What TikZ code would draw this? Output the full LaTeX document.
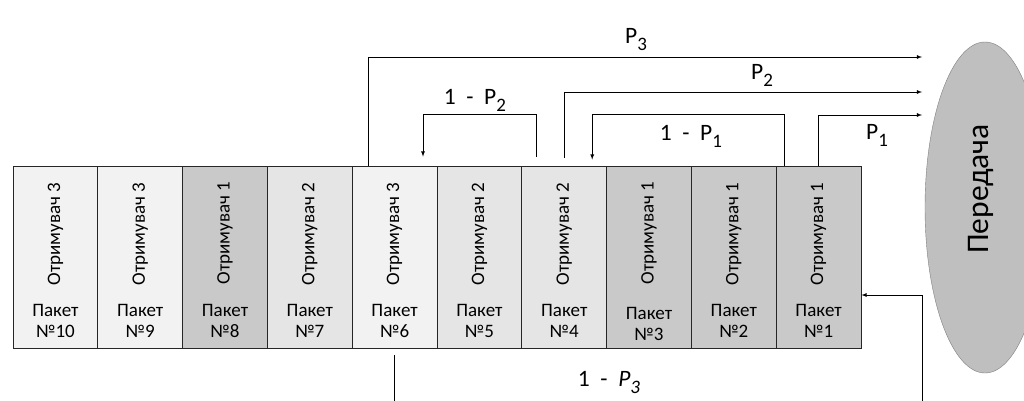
\documentclass[tikz,border=0pt]{standalone}
\usepackage{fontspec}
\setmainfont{Carlito}
\usepackage{tikz}
\usetikzlibrary{shapes.geometric, arrows, positioning}
\definecolor{pklight}{HTML}{F2F2F2}
\definecolor{pkmid}{HTML}{E5E5E5}
\definecolor{pkdark}{HTML}{C9C9C9}
\definecolor{sendfill}{HTML}{BFBFBF}
\definecolor{sendline}{HTML}{7F7F7F}
\newcommand{\psub}[1]{\raisebox{-7pt}{\fontsize{19}{19}\selectfont #1}}
\newcommand{\gap}{\hspace{0.45em}}
\tikzstyle{packet} = [rectangle, minimum width=84.8pt, minimum height=182pt, inner sep=0pt, draw=black!85, line width=0.8pt]
\tikzstyle{receiver} = [rotate=90, font=\fontsize{19}{22}\selectfont, inner sep=0pt]
\tikzstyle{pnum} = [align=center, font=\fontsize{19}{20.5}\selectfont, inner sep=0pt]
\tikzstyle{sender} = [ellipse, minimum width=120pt, minimum height=331pt, draw=sendline, fill=sendfill]
\tikzstyle{sendtext} = [rotate=90, font=\fontsize{31.5}{36}\selectfont, inner sep=0pt]
\tikzstyle{prob} = [font=\fontsize{23.5}{26}\selectfont, inner sep=0pt]
\tikzstyle{arrow} = [line width=0.8pt,->,>=latex]

\begin{document}
\begin{tikzpicture}[x=1pt, y=1pt, node distance=84.8pt]
\useasboundingbox (0,0) rectangle (1024,400);

% Packet queue
\node (pak10) [packet, fill=pklight] at (55.4,143) {};
\node (pak9) [packet, fill=pklight, right of=pak10] {};
\node (pak8) [packet, fill=pkdark, right of=pak9] {};
\node (pak7) [packet, fill=pkmid, right of=pak8] {};
\node (pak6) [packet, fill=pklight, right of=pak7] {};
\node (pak5) [packet, fill=pkmid, right of=pak6] {};
\node (pak4) [packet, fill=pkmid, right of=pak5] {};
\node (pak3) [packet, fill=pkdark, right of=pak4] {};
\node (pak2) [packet, fill=pkdark, right of=pak3] {};
\node (pak1) [packet, fill=pkdark, right of=pak2] {};

% Receivers
\node (rx10) [receiver] at ([yshift=23pt]pak10.center) {Отримувач 3};
\node (rx9) [receiver] at ([yshift=23pt]pak9.center) {Отримувач 3};
\node (rx8) [receiver] at ([yshift=24pt]pak8.center) {Отримувач 1};
\node (rx7) [receiver] at ([yshift=23pt]pak7.center) {Отримувач 2};
\node (rx6) [receiver] at ([yshift=23pt]pak6.center) {Отримувач 3};
\node (rx5) [receiver] at ([yshift=23pt]pak5.center) {Отримувач 2};
\node (rx4) [receiver] at ([yshift=23pt]pak4.center) {Отримувач 2};
\node (rx3) [receiver] at ([yshift=24pt]pak3.center) {Отримувач 1};
\node (rx2) [receiver] at ([yshift=23pt]pak2.center) {Отримувач 1};
\node (rx1) [receiver] at ([yshift=23pt]pak1.center) {Отримувач 1};

% Packet numbers
\node (no10) [pnum] at ([yshift=-64pt]pak10.center) {Пакет\\№10};
\node (no9) [pnum] at ([yshift=-64pt]pak9.center) {Пакет\\№9};
\node (no8) [pnum] at ([yshift=-64pt]pak8.center) {Пакет\\№8};
\node (no7) [pnum] at ([yshift=-64pt]pak7.center) {Пакет\\№7};
\node (no6) [pnum] at ([yshift=-64pt]pak6.center) {Пакет\\№6};
\node (no5) [pnum] at ([yshift=-64pt]pak5.center) {Пакет\\№5};
\node (no4) [pnum] at ([yshift=-64pt]pak4.center) {Пакет\\№4};
\node (no3) [pnum] at ([yshift=-67pt]pak3.center) {Пакет\\№3};
\node (no2) [pnum] at ([yshift=-64pt]pak2.center) {Пакет\\№2};
\node (no1) [pnum] at ([yshift=-64pt]pak1.center) {Пакет\\№1};

% Sender
\node (tx) [sender] at (985,192.5) {};
\node (txname) [sendtext] at ([xshift=-4pt, yshift=18.5pt]tx.center) {Передача};

% Free ends of the connectors
\coordinate (in3) at (922,343);
\coordinate (in2) at (922,308);
\coordinate (in1) at (922,285);
\coordinate (back) at (922,-8);

% Arrows to the sender
\draw [arrow] ([xshift=-26.6pt]pak6.north) |- (in3);
\draw [arrow] ([yshift=8pt]pak4.north) |- (in2);
\draw [arrow] (pak1.north) |- (in1);

% Arrows back into the queue
\draw [arrow] ([xshift=-34.6pt]pak1.north) -- ++(0,51) -| ([xshift=28pt, yshift=6pt]pak4.north);
\draw [arrow] ([xshift=-28pt, yshift=9pt]pak4.north) -- ++(0,42) -| ([xshift=28.4pt, yshift=9pt]pak6.north);
\draw [arrow] ([yshift=-7pt]pak6.south) |- (back) |- ([yshift=-38pt]pak1.east);

% Labels
\node (lp3) [prob] at (636,360) {P\psub{3}};
\node (lp2) [prob] at (762,325) {P\psub{2}};
\node (lp1) [prob] at (877,265) {P\psub{1}};
\node (lq1) [prob] at (691,264) {1\gap-\gap P\psub{1}};
\node (lq2) [prob] at (475,300) {1\gap-\gap P\psub{2}};
\node (lq3) [prob] at (609,18) {1\gap-\gap\textit{P\psub{3}}};

\end{tikzpicture}
\end{document}
